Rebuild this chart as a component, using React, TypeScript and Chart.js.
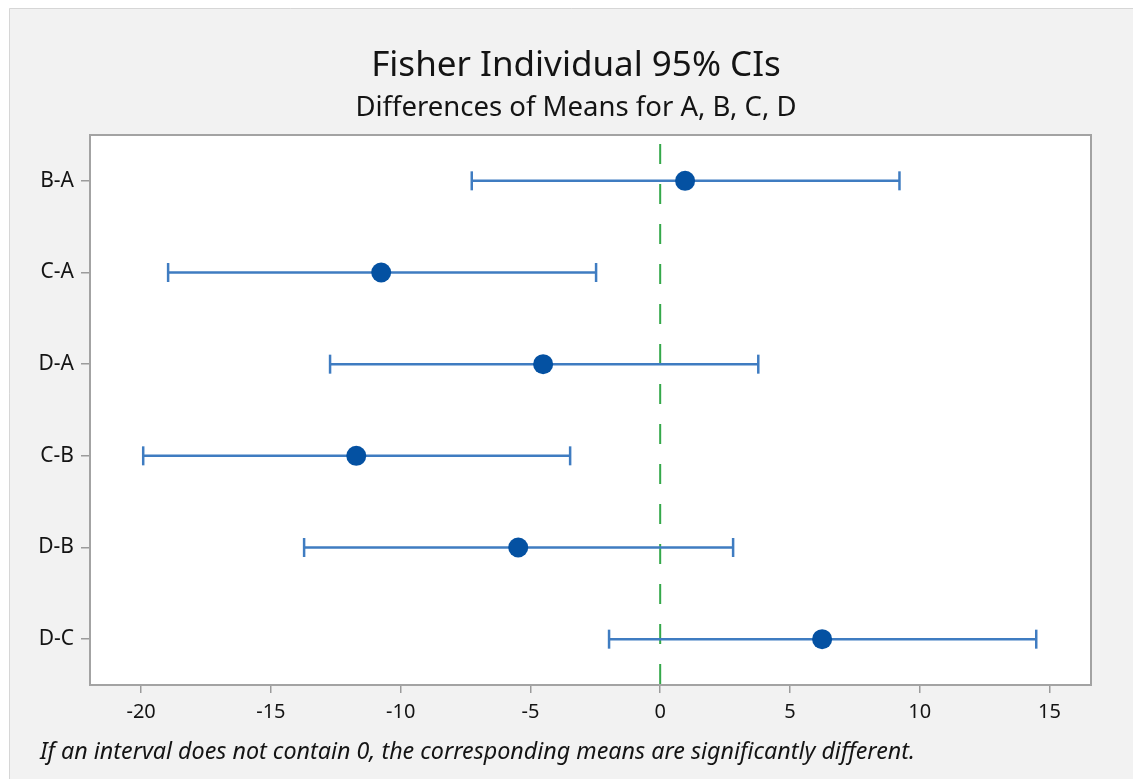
import React, { useEffect, useRef } from "react";
import { Chart, registerables } from "chart.js";

Chart.register(...registerables);

// ---- Data ----
const comparisons = ["B-A", "C-A", "D-A", "C-B", "D-B", "D-C"];
const diffMeans = [0.96, -10.75, -4.51, -11.71, -5.47, 6.24];
const lowerCI = [-7.26, -18.96, -12.72, -19.92, -13.72, -1.97];
const upperCI = [9.22, -2.47, 3.78, -3.47, 2.81, 14.49];
const xTickValues = [-20, -15, -10, -5, 0, 5, 10, 15];
const referenceValue = 0;

const titleText = "Fisher Individual 95% CIs";
const subtitleText = "Differences of Means for A, B, C, D";
const footnoteText =
  "If an interval does not contain 0, the corresponding means are significantly different.";

const W = 1133;
const H = 779;
const FONT = "'Noto Sans', 'Open Sans', sans-serif";

const panelPlugin = {
  id: "panelPlugin",
  beforeDraw(chart: any) {
    const { ctx, chartArea } = chart;
    ctx.save();
    ctx.fillStyle = "#ffffff";
    ctx.fillRect(0, 0, W, H);
    ctx.fillStyle = "#f2f2f2";
    ctx.fillRect(9, 8, W - 9, H - 8);
    ctx.strokeStyle = "#d6d6d6";
    ctx.lineWidth = 1;
    ctx.beginPath();
    ctx.moveTo(9.5, H);
    ctx.lineTo(9.5, 8.5);
    ctx.lineTo(W, 8.5);
    ctx.stroke();
    ctx.fillStyle = "#ffffff";
    ctx.fillRect(chartArea.left, chartArea.top, chartArea.right - chartArea.left, chartArea.bottom - chartArea.top);
    ctx.restore();
  },
  afterDraw(chart: any) {
    const { ctx, chartArea } = chart;
    ctx.save();
    ctx.strokeStyle = "#a3a3a3";
    ctx.lineWidth = 2;
    ctx.strokeRect(chartArea.left, chartArea.top, chartArea.right - chartArea.left, chartArea.bottom - chartArea.top);
    ctx.fillStyle = "#141414";
    ctx.textAlign = "center";
    ctx.textBaseline = "alphabetic";
    ctx.font = `35px ${FONT}`;
    ctx.fillText(titleText, 576, 76);
    ctx.font = `27.5px ${FONT}`;
    ctx.fillText(subtitleText, 576, 116);
    ctx.textAlign = "left";
    ctx.font = `italic 23.3px ${FONT}`;
    ctx.fillText(footnoteText, 40, 759);
    ctx.restore();
  },
};

export default function App() {
  const canvasRef = useRef<HTMLCanvasElement | null>(null);

  useEffect(() => {
    if (!canvasRef.current) return;
    const lineColor = "#3f7cc1";
    const pointColor = "#0451a2";

    const intervalSets = comparisons.map((name, i) => ({
      label: name,
      type: "scatter" as const,
      data: [
        { x: lowerCI[i], y: i + 1 },
        { x: upperCI[i], y: i + 1 },
      ],
      showLine: true,
      borderColor: lineColor,
      borderWidth: 2.5,
      pointStyle: "line" as const,
      rotation: 90,
      pointRadius: 9.5,
      pointBorderColor: lineColor,
      pointBorderWidth: 2.5,
      pointBackgroundColor: lineColor,
      order: 5,
    }));

    const chart = new Chart(canvasRef.current, {
      type: "scatter",
      data: {
        datasets: [
          {
            label: "zero",
            data: [
              { x: referenceValue, y: 0.5 },
              { x: referenceValue, y: 6.5 },
            ],
            showLine: true,
            borderColor: "#34a84a",
            borderWidth: 2,
            borderDash: [20, 20],
            borderDashOffset: 31,
            pointRadius: 0,
            order: 10,
          } as any,
          ...intervalSets,
          {
            label: "Difference",
            data: diffMeans.map((m, i) => ({ x: m, y: i + 1 })),
            pointRadius: 10,
            pointBackgroundColor: pointColor,
            pointBorderColor: pointColor,
            pointBorderWidth: 0,
            order: 0,
          } as any,
        ],
      },
      options: {
        responsive: false,
        animation: false,
        layout: { padding: { top: 135, right: 42, left: 0, bottom: 0 } },
        plugins: {
          legend: { display: false },
          tooltip: { enabled: false },
          title: { display: false },
        },
        scales: {
          x: {
            type: "linear",
            min: -21.97,
            max: 16.6,
            afterBuildTicks: (s: any) => {
              s.ticks = xTickValues.map((v) => ({ value: v }));
            },
            afterFit: (s: any) => {
              s.height = 94;
            },
            grid: {
              drawOnChartArea: false,
              drawTicks: true,
              tickLength: 8,
              color: "#9b9b9b",
              lineWidth: 1.5,
            },
            border: { display: false },
            ticks: {
              autoSkip: false,
              maxRotation: 0,
              padding: 7,
              color: "#141414",
              font: { family: FONT, size: 20 },
            },
          },
          y: {
            type: "linear",
            reverse: true,
            min: 0.5,
            max: 6.5,
            afterBuildTicks: (s: any) => {
              s.ticks = comparisons.map((_, i) => ({ value: i + 1 }));
            },
            afterFit: (s: any) => {
              s.width = 90;
            },
            grid: {
              drawOnChartArea: false,
              drawTicks: true,
              tickLength: 9,
              color: "#9b9b9b",
              lineWidth: 1.5,
            },
            border: { display: false },
            ticks: {
              autoSkip: false,
              padding: 7,
              color: "#141414",
              font: { family: FONT, size: 21 },
              callback: (v: any) => comparisons[Math.round(Number(v)) - 1] ?? "",
            },
          },
        },
      },
      plugins: [panelPlugin],
    } as any);

    return () => chart.destroy();
  }, []);

  return (
    <div style={{ position: "fixed", left: 0, top: 0, width: W, height: H }}>
      <canvas ref={canvasRef} width={W} height={H} style={{ display: "block", width: W, height: H }} />
    </div>
  );
}
